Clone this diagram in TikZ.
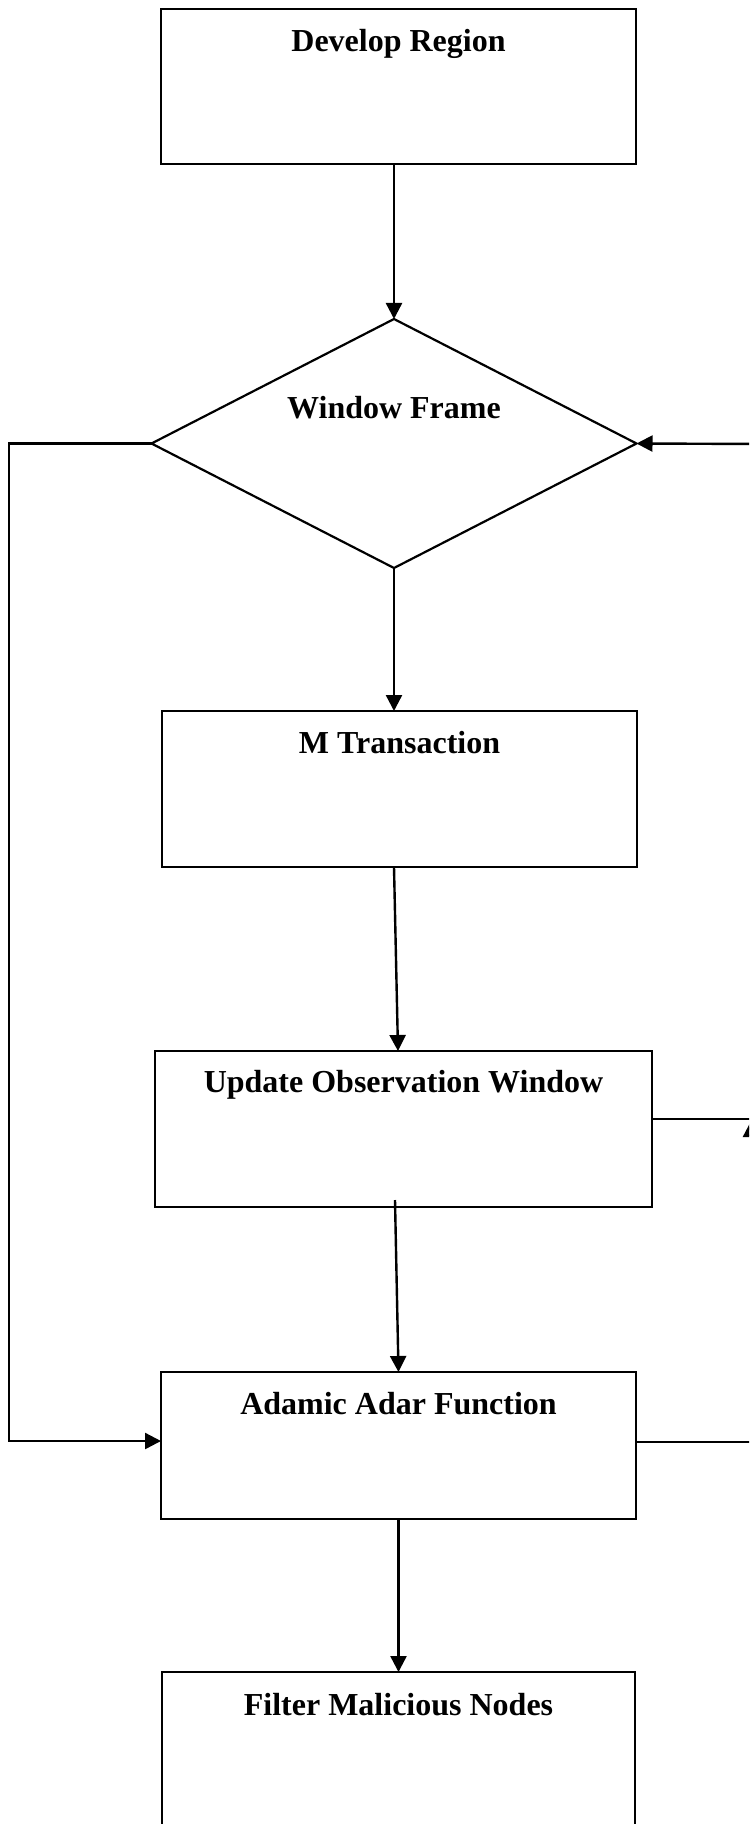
\documentclass[tikz,border=0pt]{standalone}
\usepackage{fontspec}
\setmainfont{Liberation Serif}
\usetikzlibrary{arrows.meta,shapes.geometric}
\tikzset{
  boxnode/.style={draw=black, line width=1.3pt, rectangle, inner sep=0pt, outer sep=0pt, fill=white},
  decnode/.style={draw=black, line width=1.1pt, diamond, inner sep=0pt, outer sep=0pt, aspect=1.95},
  lbl/.style={font=\fontsize{16pt}{19pt}\selectfont\bfseries, inner sep=0pt, anchor=base},
  conn/.style={draw=black, line width=1.2pt},
  arr/.style={conn, -{Triangle[length=8pt,width=8pt]}}
}
\begin{document}
\begin{tikzpicture}[x=0.5pt,y=-0.5pt]
\useasboundingbox (0,0) rectangle (749,1824);
\clip (0,0) rectangle (749,1824);
\fill[white] (0,0) rectangle (749,1824);

% boxes
\node[boxnode, minimum width=237.5pt, minimum height=77.5pt] (dev) at (398.5,86.5) {};
\node[decnode, minimum width=242.5pt, minimum height=124.5pt] (win) at (394,443.5) {};
\node[boxnode, minimum width=237.5pt, minimum height=78pt] (mt) at (399.5,789) {};
\node[boxnode, minimum width=248.5pt, minimum height=78pt] (upd) at (403.5,1129) {};
\node[boxnode, minimum width=237.5pt, minimum height=73.5pt] (ada) at (398.5,1445.5) {};
\node[boxnode, minimum width=236.5pt, minimum height=150pt] (fil) at (398.5,1822) {};

% labels
\node[lbl] (devT) at (398.5,52) {Develop Region};
\node[lbl] (winT) at (394,418) {Window Frame};
\node[lbl] (mtT) at (399.5,753) {M Transaction};
\node[lbl] (updT) at (403.5,1092) {Update Observation Window};
\node[lbl] (adaT) at (398.5,1414) {Adamic Adar Function};
\node[lbl] (filT) at (398.5,1715) {Filter Malicious Nodes};

% helper coordinates
\coordinate (L1) at (9,447);
\coordinate (L2) at (9,1441);
\coordinate (R1) at (762,444);
\coordinate (R2) at (751,1442);
\coordinate (R3) at (751,1121);
\coordinate (R4) at (762,1119);

% connectors
\draw[arr] (dev.south -| win.north) -- (win.north);
\draw[arr] (win.south) -- (mt.north -| win.south);
\draw[arr] (mt.south -| win.south) -- ([xshift=-2.75pt]upd.north);
\draw[arr] ([xshift=-4.25pt,yshift=3.5pt]upd.south) -- (ada.north);
\draw[arr] (ada.south) -- (fil.north);
\draw[arr] (win.west) -- (win.west -| L1) -- (L2) -- (L2 -| ada.west);
\draw[arr] (R1) -- (win.east);
\draw[conn] (upd.east |- R4) -- (R4);
\draw[conn] (ada.east |- R2) -- (R2);
\draw[arr] (R2) -- (R3);
\end{tikzpicture}
\end{document}
